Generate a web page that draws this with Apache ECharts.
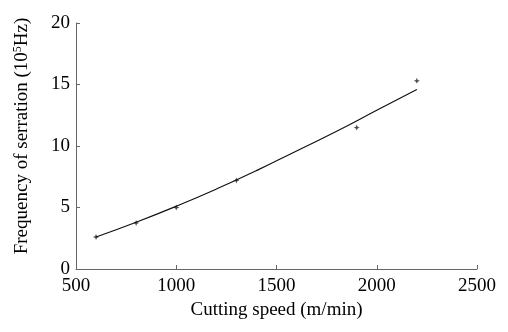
<!DOCTYPE html>
<html><head><meta charset="utf-8">
<script src="https://cdn.jsdelivr.net/npm/echarts@6/dist/echarts.min.js"></script>
<style>html,body{margin:0;padding:0;background:#fff}#c{width:508px;height:332px}</style>
</head><body><div id="c"></div>
<script>
// measured points
const speeds = [600, 800, 1000, 1300, 1900, 2200];
const freqs = [2.6, 3.75, 5.0, 7.2, 11.5, 15.3];
// fitted curve
const fitSpeeds = [600, 800, 1000, 1200, 1400, 1600, 1800, 2000, 2200];
const fitFreqs = [2.6, 3.8, 5.1, 6.5, 8.0, 9.6, 11.2, 12.9, 14.6];
const xTicks = [500, 1000, 1500, 2000, 2500];
const yTicks = [0, 5, 10, 15, 20];

const font = 'Liberation Serif';
const chart = echarts.init(document.getElementById('c'));
chart.setOption({
  animation: false,
  backgroundColor: '#fff',
  grid: {left: 76, right: 31, top: 23, bottom: 63},
  xAxis: {
    type: 'value', min: xTicks[0], max: xTicks[xTicks.length-1], interval: 500,
    name: 'Cutting speed (m/min)', nameLocation: 'middle', nameGap: 31,
    nameTextStyle: {fontFamily: font, fontSize: 19, color: '#000'},
    axisLine: {lineStyle: {color: '#666', width: 1}},
    axisTick: {inside: true, length: 4, lineStyle: {color: '#666'}},
    axisLabel: {fontFamily: font, fontSize: 19, color: '#000', margin: 8, formatter: v => String(v)},
    splitLine: {show: false}
  },
  yAxis: {
    type: 'value', min: yTicks[0], max: yTicks[yTicks.length-1], interval: 5,
    name: '{a|Frequency of serration (10}{s|5}{a|Hz)}', nameLocation: 'middle', nameGap: 44,
    nameTextStyle: {fontFamily: font, fontSize: 19, color: '#000', padding: [0, 0, 0, 20],
      rich: {a: {fontFamily: font, fontSize: 19, color: '#000'},
             s: {fontFamily: font, fontSize: 12, color: '#000', verticalAlign: 'bottom', padding: [0,0,8,0]}}},
    axisLine: {show: true, lineStyle: {color: '#666', width: 1}},
    axisTick: {show: true, inside: true, length: 4, lineStyle: {color: '#666'}},
    axisLabel: {fontFamily: font, fontSize: 19, color: '#000', margin: 6, formatter: v => String(v)},
    splitLine: {show: false}
  },
  series: [
    {type: 'line', data: fitSpeeds.map((x,i)=>[x, fitFreqs[i]]), smooth: true, showSymbol: false,
     lineStyle: {color: '#111', width: 1.2}},
    {type: 'scatter', data: speeds.map((x,i)=>[x, freqs[i]]),
     symbol: 'path://M0,-1 L0.3,-0.3 L1,0 L0.3,0.3 L0,1 L-0.3,0.3 L-1,0 L-0.3,-0.3 Z', symbolSize: 6,
     itemStyle: {color: '#222'}}
  ]
});
</script></body></html>
